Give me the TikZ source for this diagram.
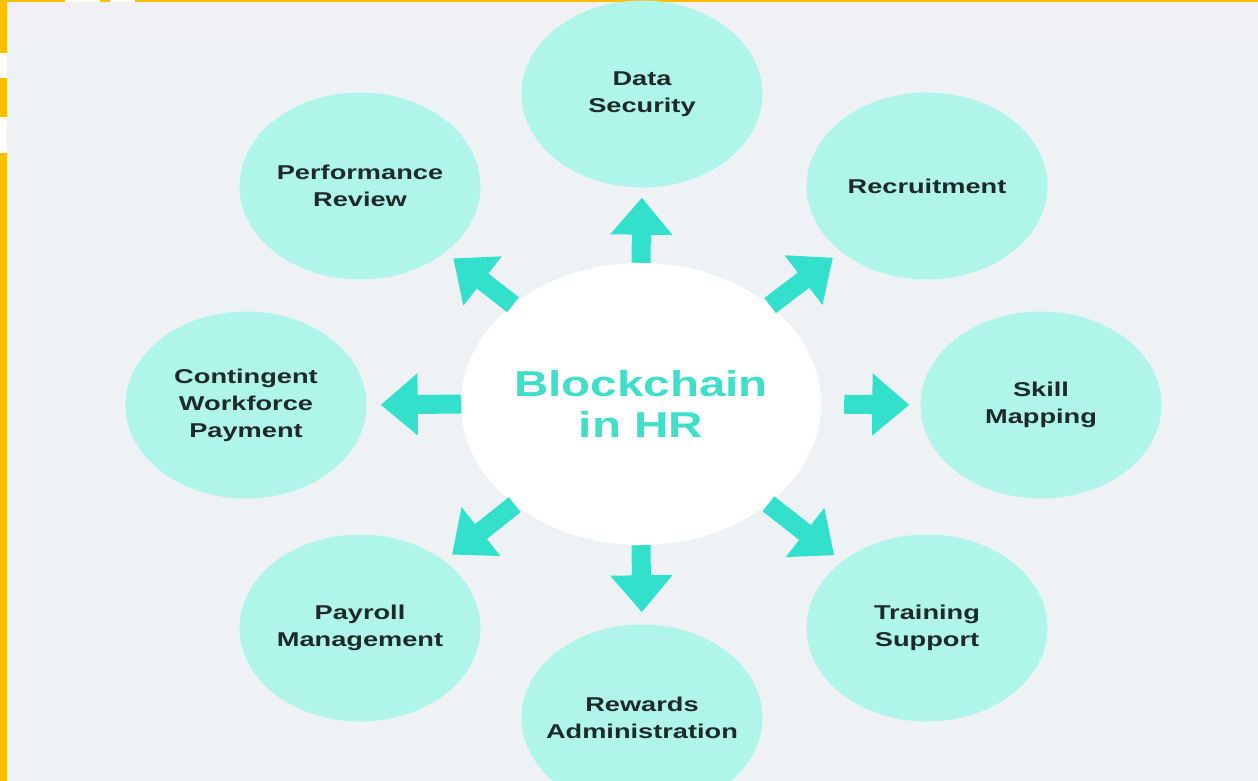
\documentclass[tikz,border=0pt]{standalone}
\usepackage{fontspec}
\setmainfont{Liberation Sans}
\newfontfamily\labfont[FakeStretch=1.36]{Liberation Sans}
\newfontfamily\hubfont[FakeStretch=1.32]{Liberation Sans}
\usetikzlibrary{shapes.geometric,arrows.meta}
\definecolor{bgc}{HTML}{EEF2F5}
\definecolor{bandc}{HTML}{F1F1F5}
\definecolor{mint}{HTML}{B0F5E9}
\definecolor{arrowc}{HTML}{33E0CC}
\definecolor{titlec}{HTML}{40DFCA}
\definecolor{yel}{HTML}{FFBF00}
\definecolor{txt}{HTML}{1E2A2A}
\tikzset{
  topictext/.style={align=center, font=\labfont\bfseries\fontsize{20}{27}\selectfont, text=txt, inner sep=0pt},
  topic/.style={ellipse, fill=mint, draw=none, minimum width=241pt, minimum height=187pt, inner sep=0pt,
    label={[topictext]center:#1}},
  hub/.style={ellipse, fill=white, draw=none, minimum width=360pt, minimum height=282pt, inner sep=0pt,
    label={[align=center, inner sep=0pt, font=\hubfont\bfseries\fontsize{36}{41}\selectfont, text=titlec]center:#1}},
  blockarrow/.style={draw=arrowc, line width=19pt, -{Triangle[width=60pt,length=37pt]}}
}
\begin{document}
\begin{tikzpicture}[x=1pt,y=-1pt]
\useasboundingbox (0,0) rectangle (1258,781);
\clip (0,0) rectangle (1258,781);
% frame and background
\fill[yel] (0,0) rectangle (1258,781);
\fill[bgc] (7,2) rectangle (1258,781);
\fill[bandc] (7,2) rectangle (1258,35);
\fill[white] (65,0) rectangle (100,2);
\fill[white] (110,0) rectangle (135,2);
\fill[white] (0,53) rectangle (7,78);
\fill[white] (0,117) rectangle (7,153);
% nodes
\node[hub={Blockchain\\in HR}] (hub) at (641,404) {};
\node[topic={Data\\Security}] (ds) at (642,94) {};
\node[topic={Performance\\Review}] (pr) at (360,186) {};
\node[topic={Recruitment}] (rc) at (927,186) {};
\node[topic={Contingent\\Workforce\\Payment}] (cw) at (246,405) {};
\node[topic={Skill\\Mapping}] (sm) at (1041,405) {};
\node[topic={Payroll\\Management}] (pm) at (360,628) {};
\node[topic={Training\\Support}] (ts) at (927,628) {};
\node[topic={Rewards\\Administration}] (ra) at (642,718) {};
% arrows
\draw[blockarrow, shorten >=10pt] (hub.north) -- (ds.south);
\draw[blockarrow, shorten >=12pt] (hub.south) -- (ra.north);
\draw[blockarrow, shorten >=14pt] (hub.west) -- (cw.east);
\draw[blockarrow, shorten <=23pt, shorten >=11pt] (hub.east) -- (sm.west);
\draw[blockarrow, shorten >=10pt] (hub) -- (rc);
\draw[blockarrow, shorten >=10pt] (hub) -- (pr);
\draw[blockarrow, shorten >=10pt] (hub) -- (pm);
\draw[blockarrow, shorten >=10pt] (hub) -- (ts);
\end{tikzpicture}
\end{document}
